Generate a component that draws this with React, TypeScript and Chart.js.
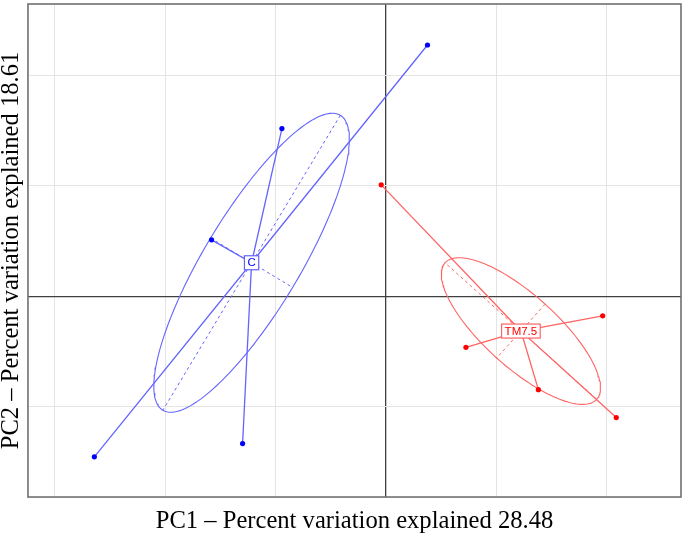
import React, { useEffect, useRef } from "react";
import { Chart, registerables } from "chart.js";
Chart.register(...registerables);

// ---- data ----
const GROUP_NAMES = ["C", "TM7.5"];
const C_PC1 = [0.376, -0.942, -1.579, -1.298, -2.64];
const C_PC2 = [2.276, 1.519, 0.512, -1.332, -1.452];
const TM_PC1 = [-0.043, 1.962, 0.724, 1.38, 2.085];
const TM_PC2 = [1.01, -0.176, -0.461, -0.844, -1.097];
const X_TICKS = [-3, -2, -1, 0, 1, 2];
const Y_TICKS = [-1, 0, 1, 2];
const X_RANGE = [-3.241, 2.671];
const Y_RANGE = [-1.816, 2.647];
const X_TITLE = "PC1 \u2013 Percent variation explained 28.48";
const Y_TITLE = "PC2 \u2013 Percent variation explained 18.61";
const ELLIPSE_SCALE = 0.81;

const POINT_COLORS = ["#0000ff", "#ff0000"];
const LINE_COLORS = ["#6464ff", "#ff6464"];

type P = { x: number; y: number };

function groupStats(xs: number[], ys: number[]) {
  const n = xs.length;
  const mx = xs.reduce((a, b) => a + b, 0) / n;
  const my = ys.reduce((a, b) => a + b, 0) / n;
  let sxx = 0, syy = 0, sxy = 0;
  for (let i = 0; i < n; i++) {
    const dx = xs[i] - mx, dy = ys[i] - my;
    sxx += dx * dx; syy += dy * dy; sxy += dx * dy;
  }
  sxx /= n - 1; syy /= n - 1; sxy /= n - 1;
  const tr = sxx + syy;
  const det = sxx * syy - sxy * sxy;
  const disc = Math.sqrt(Math.max(0, (tr * tr) / 4 - det));
  const l1 = tr / 2 + disc, l2 = Math.max(0, tr / 2 - disc);
  const th = 0.5 * Math.atan2(2 * sxy, sxx - syy);
  const a = ELLIPSE_SCALE * Math.sqrt(l1);
  const b = ELLIPSE_SCALE * Math.sqrt(l2);
  const c = Math.cos(th), s = Math.sin(th);
  const ellipse: P[] = [];
  const N = 180;
  for (let k = 0; k <= N; k++) {
    const t = (k / N) * Math.PI * 2;
    const u = a * Math.cos(t), v = b * Math.sin(t);
    ellipse.push({ x: mx + u * c - v * s, y: my + u * s + v * c });
  }
  const major: P[] = [
    { x: mx + a * c, y: my + a * s },
    { x: mx - a * c, y: my - a * s },
  ];
  const minor: P[] = [
    { x: mx - b * s, y: my + b * c },
    { x: mx + b * s, y: my - b * c },
  ];
  const center = { x: mx, y: my };
  const pts: P[] = xs.map((x, i) => ({ x, y: ys[i] }));
  const spider: P[] = [];
  pts.forEach((p) => { spider.push(center); spider.push(p); });
  return { center, pts, ellipse, major, minor, spider };
}

export default function App() {
  const ref = useRef<HTMLCanvasElement | null>(null);
  useEffect(() => {
    if (!ref.current) return;
    const groups = [groupStats(C_PC1, C_PC2), groupStats(TM_PC1, TM_PC2)];
    const datasets: any[] = [];
    groups.forEach((g, gi) => {
      datasets.push({
        data: g.pts, showLine: false, pointRadius: 2.6, pointBackgroundColor: POINT_COLORS[gi],
        pointBorderWidth: 0, borderColor: POINT_COLORS[gi],
      });
      datasets.push({
        data: g.spider, showLine: true, borderColor: LINE_COLORS[gi], borderWidth: 1.3,
        pointRadius: 0, tension: 0,
      });
      datasets.push({
        data: g.ellipse, showLine: true, borderColor: LINE_COLORS[gi], borderWidth: 1.1,
        pointRadius: 0, tension: 0,
      });
      datasets.push({
        data: g.major, showLine: true, borderColor: LINE_COLORS[gi], borderWidth: 1,
        borderDash: [3, 3], pointRadius: 0,
      });
      datasets.push({
        data: g.minor, showLine: true, borderColor: LINE_COLORS[gi], borderWidth: 1,
        borderDash: [3, 3], pointRadius: 0,
      });
    });

    const framePlugin = {
      id: "frame",
      afterDraw(chart: any) {
        const { ctx, chartArea: a } = chart;
        ctx.save();
        ctx.strokeStyle = "#707070";
        ctx.lineWidth = 1.6;
        ctx.strokeRect(a.left, a.top, a.right - a.left, a.bottom - a.top);
        ctx.restore();
      },
    };
    const labelPlugin = {
      id: "groupLabels",
      afterDatasetsDraw(chart: any) {
        const { ctx } = chart;
        const xs = chart.scales.x, ys = chart.scales.y;
        ctx.save();
        ctx.font = '11.5px "Liberation Sans", Arial, sans-serif';
        ctx.textAlign = "center";
        ctx.textBaseline = "middle";
        groups.forEach((g, gi) => {
          const px = xs.getPixelForValue(g.center.x);
          const py = ys.getPixelForValue(g.center.y);
          const w = ctx.measureText(GROUP_NAMES[gi]).width + 6;
          const h = 14;
          ctx.fillStyle = "#ffffff";
          ctx.fillRect(px - w / 2, py - h / 2, w, h);
          ctx.strokeStyle = LINE_COLORS[gi];
          ctx.lineWidth = 1.2;
          ctx.strokeRect(px - w / 2, py - h / 2, w, h);
          ctx.fillStyle = POINT_COLORS[gi];
          ctx.fillText(GROUP_NAMES[gi], px, py + 0.5);
        });
        ctx.restore();
      },
    };

    const gridColor = (c: any) => (c.tick && c.tick.value === 0 ? "#404040" : "#e4e4e4");
    const gridWidth = (c: any) => (c.tick && c.tick.value === 0 ? 1.3 : 1);
    const titleFont = { family: '"Liberation Serif", "Times New Roman", serif', size: 24.6, lineHeight: 0.95 };

    const chart = new Chart(ref.current, {
      type: "scatter",
      data: { datasets },
      plugins: [framePlugin, labelPlugin],
      options: {
        responsive: false,
        animation: false,
        layout: { padding: { top: 2, right: 2.5, bottom: 0, left: 0 } },
        plugins: { legend: { display: false }, tooltip: { enabled: false } },
        scales: {
          x: {
            type: "linear", min: X_RANGE[0], max: X_RANGE[1],
            afterBuildTicks: (s: any) => { s.ticks = X_TICKS.map((v) => ({ value: v })); },
            ticks: { display: false },
            grid: { drawTicks: false, color: gridColor, lineWidth: gridWidth },
            border: { display: false },
            title: { display: true, text: X_TITLE, color: "#000", font: titleFont, padding: { top: 12.6, bottom: 3.0 } },
          },
          y: {
            type: "linear", min: Y_RANGE[0], max: Y_RANGE[1],
            afterBuildTicks: (s: any) => { s.ticks = Y_TICKS.map((v) => ({ value: v })); },
            ticks: { display: false },
            grid: { drawTicks: false, color: gridColor, lineWidth: gridWidth },
            border: { display: false },
            title: { display: true, text: Y_TITLE, color: "#000", font: titleFont, padding: { top: 0, bottom: 4.6 } },
          },
        },
      } as any,
    });
    return () => chart.destroy();
  }, []);
  return (
    <div style={{ position: "absolute", left: 0, top: 0, width: 685, height: 536, background: "#fff" }}>
      <canvas ref={ref} width={685} height={536} style={{ display: "block" }} />
    </div>
  );
}
